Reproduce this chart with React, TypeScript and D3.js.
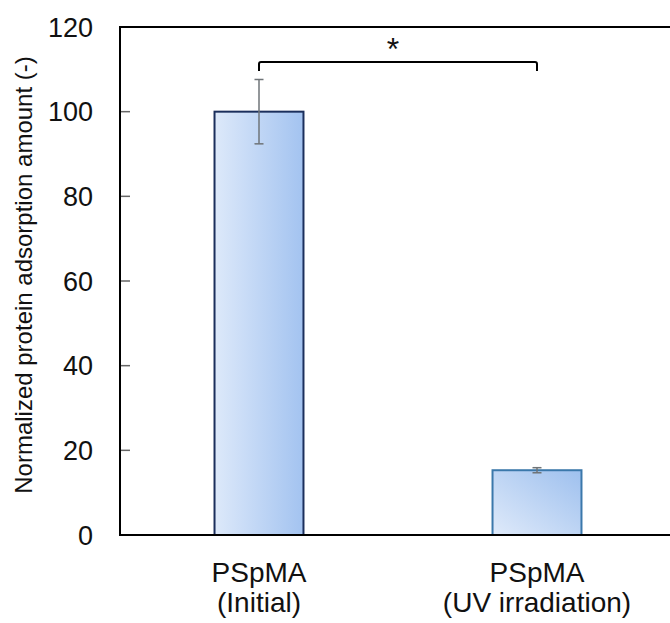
import React from "react";
import * as d3 from "d3";

const categories = ["PSpMA\n(Initial)", "PSpMA\n(UV irradiation)"];
const values = [100, 15.3];
const errors = [7.6, 0.6];
const yTicks = [0, 20, 40, 60, 80, 100, 120];
const yTitle = "Normalized protein adsorption amount (-)";
const sigLabel = "*";

export default function App() {
  const W = 670, H = 623;
  const left = 120, top = 27, bottom = 535, right = 672;
  const y = d3.scaleLinear().domain([0, 120]).range([bottom, top]);
  const x = d3.scaleBand().domain(categories).range([120, 676]).paddingInner(0.68).paddingOuter(0.34);
  const bw = x.bandwidth();
  const cx = (c: string) => (x(c) as number) + bw / 2;
  const font = "Liberation Sans, Arial, sans-serif";
  const strokes = ["#1b2f5c", "#3b78ab"];
  const fills = ["url(#g0)", "url(#g1)"];
  const bracketY = y(120) + 35;
  const bracketLeft = cx(categories[0]);
  const bracketRight = cx(categories[1]);
  return (
    <svg width={W} height={H} style={{ position: "absolute", left: 0, top: 0, background: "#fff" }}>
      <defs>
        <linearGradient id="g0" x1="0" y1="0" x2="1" y2="0">
          <stop offset="0" stopColor="#dde9fa" />
          <stop offset="1" stopColor="#a3c3f0" />
        </linearGradient>
        <linearGradient id="g1" x1="0" y1="1" x2="1" y2="0">
          <stop offset="0" stopColor="#dfeafa" />
          <stop offset="1" stopColor="#9ec0ee" />
        </linearGradient>
      </defs>
      <rect x={0} y={0} width={W} height={H} fill="#fff" />
      {categories.map((c, i) => (
        <rect key={c} x={x(c)} y={y(values[i])} width={bw} height={y(0) - y(values[i])}
          fill={fills[i]} stroke={strokes[i]} strokeWidth={2} />
      ))}
      {categories.map((c, i) => {
        const px = cx(c);
        const y1 = y(values[i] + errors[i]);
        const y2 = y(values[i] - errors[i]);
        return (
          <g key={"e" + c} stroke="#6f7478" strokeWidth={1.5}>
            <line x1={px} x2={px} y1={y1} y2={y2} />
            <line x1={px - 4.5} x2={px + 4.5} y1={y1} y2={y1} />
            <line x1={px - 4.5} x2={px + 4.5} y1={y2} y2={y2} />
          </g>
        );
      })}
      {yTicks.map((t) => (
        <g key={t}>
          {t > 0 && t < 120 && (
            <line x1={left} x2={left + 10} y1={y(t)} y2={y(t)} stroke="#666" strokeWidth={1.5} />
          )}
          <text x={93} y={y(t)} dy="0.36em" textAnchor="end" fontFamily={font} fontSize={27} fill="#111">
            {t}
          </text>
        </g>
      ))}
      <line x1={left} x2={right} y1={top} y2={top} stroke="#000" strokeWidth={2} />
      <line x1={left} x2={left} y1={top - 1} y2={bottom + 1} stroke="#000" strokeWidth={2} />
      <line x1={left} x2={right} y1={bottom} y2={bottom} stroke="#000" strokeWidth={2} />
      <path d={`M${bracketLeft},${bracketY + 9} L${bracketLeft},${bracketY + 2} Q${bracketLeft},${bracketY} ${bracketLeft + 2},${bracketY} L${bracketRight - 2},${bracketY} Q${bracketRight},${bracketY} ${bracketRight},${bracketY + 2} L${bracketRight},${bracketY + 9}`}
        fill="none" stroke="#000" strokeWidth={2} />
      <text x={(bracketLeft + bracketRight) / 2 - 5} y={bracketY - 2} textAnchor="middle" fontFamily={font} fontSize={32} fill="#111">
        {sigLabel}
      </text>
      <text transform={`translate(32,${(top + bottom) / 2 - 6}) rotate(-90)`} textAnchor="middle" fontFamily={font} fontSize={24} fill="#111">
        {yTitle}
      </text>
      {categories.map((c) => {
        const lines = c.split("\n");
        return (
          <text key={"l" + c} x={cx(c)} textAnchor="middle" fontFamily={font} fontSize={28} fill="#111">
            {lines.map((l, j) => (
              <tspan key={j} x={cx(c)} y={582 + j * 30}>{l}</tspan>
            ))}
          </text>
        );
      })}
    </svg>
  );
}
